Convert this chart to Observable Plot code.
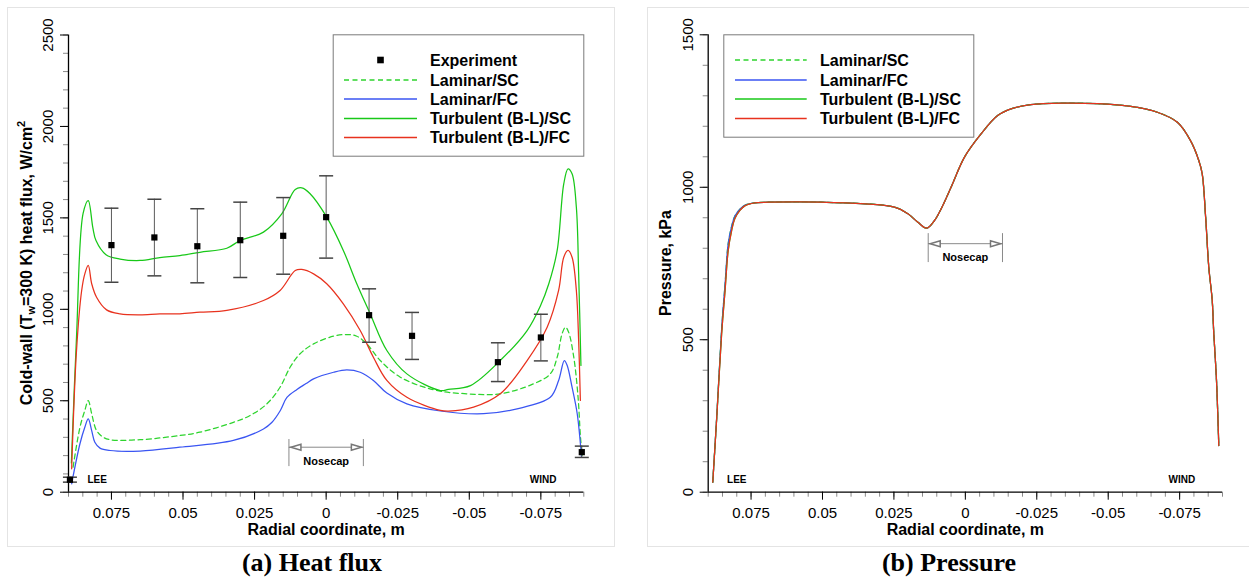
<!DOCTYPE html>
<html><head><meta charset="utf-8">
<script src="https://cdn.jsdelivr.net/npm/d3@7"></script>
<script src="https://cdn.jsdelivr.net/npm/@observablehq/plot@0.6"></script>
<style>
body{margin:0;background:#fff;}
#root{position:relative;width:1249px;height:578px;overflow:hidden;font-family:'Liberation Sans',Arial,Helvetica,sans-serif;}
.box{position:absolute;border:1px solid #e4e4e4;box-sizing:border-box;}
.title{position:absolute;font-family:'Liberation Serif','Times New Roman',serif;font-weight:bold;font-size:26px;text-align:center;white-space:nowrap;line-height:28px;}
.panel{position:absolute;top:0;}
</style></head><body><div id="root"></div>
<script>
// ---------- data ----------
const xTickValues = [0.075, 0.05, 0.025, 0, -0.025, -0.05, -0.075];
const xTickLabels = ["0.075", "0.05", "0.025", "0", "-0.025", "-0.05", "-0.075"];
const heatTickValues = [0, 500, 1000, 1500, 2000, 2500];
const presTickValues = [0, 500, 1000, 1500];

const seriesNames = ["Laminar/SC", "Laminar/FC", "Turbulent (B-L)/SC", "Turbulent (B-L)/FC"];
const seriesColors = ["#2ed42e", "#3a55f2", "#18c818", "#e8321e"];

// Experiment (heat flux)
const expX  = [0.0895, 0.075, 0.060, 0.045, 0.030, 0.015, 0.000, -0.015, -0.030, -0.060, -0.075, -0.0893];
const expY  = [68, 1351, 1393, 1345, 1378, 1402, 1504, 968, 855, 711, 846, 219];
const expLo = [55, 1148, 1183, 1145, 1174, 1192, 1280, 820, 726, 605, 718, 190];
const expHi = [82, 1553, 1602, 1550, 1586, 1611, 1730, 1112, 983, 817, 973, 252];

// Laminar/SC heat flux
const lamSCx = [0.0884,0.0860,0.0843,0.0831,0.0819,0.0802,0.0779,0.0755,0.0650,0.0511,0.0441,0.0324,0.0265,0.0207,0.0161,0.0126,0.0091,0.0044,-0.0026,-0.0072,-0.0107,-0.0142,-0.0189,-0.0259,-0.0375,-0.0492,-0.0608,-0.0725,-0.0783,-0.0807,-0.0824,-0.0836,-0.0847,-0.0865,-0.0880,-0.0888,-0.0894];
const lamSCy = [137,355,447,501,429,337,301,287,287,310,328,382,420,483,574,683,757,811,853,862,853,811,720,629,560,538,538,593,647,738,866,902,875,738,519,310,201];
// Laminar/FC heat flux
const lamFCx = [0.0889,0.0860,0.0843,0.0831,0.0819,0.0808,0.0790,0.0755,0.0650,0.0511,0.0324,0.0219,0.0190,0.0160,0.0137,0.0102,0.0070,0.0044,-0.0026,-0.0072,-0.0119,-0.0165,-0.0212,-0.0282,-0.0399,-0.0550,-0.0667,-0.0783,-0.0812,-0.0832,-0.0842,-0.0859,-0.0877,-0.0892];
const lamFCy = [46,265,355,401,337,273,241,228,225,246,283,346,381,447,518,562,594,620,656,669,656,611,542,483,444,429,456,519,611,720,693,574,429,191];
// Turbulent (B-L)/SC heat flux
const turbSCx = [0.0890,0.0872,0.0849,0.0831,0.0815,0.0804,0.0769,0.0720,0.0650,0.0581,0.0511,0.0441,0.0347,0.0301,0.0219,0.0155,0.0108,0.0085,0.0056,-0.0002,-0.0060,-0.0107,-0.0154,-0.0212,-0.0282,-0.0399,-0.0427,-0.0504,-0.0608,-0.0702,-0.0749,-0.0778,-0.0807,-0.0830,-0.0845,-0.0859,-0.0874,-0.0882,-0.0890];
const turbSCy = [160,850,1524,1595,1447,1376,1299,1275,1267,1283,1294,1312,1334,1376,1422,1522,1655,1664,1632,1504,1322,1140,975,775,647,556,562,583,720,884,1021,1141,1322,1686,1768,1741,1558,1194,693];
// Turbulent (B-L)/FC heat flux
const turbFCx = [0.0889,0.0872,0.0854,0.0843,0.0831,0.0819,0.0802,0.0767,0.0720,0.0650,0.0581,0.0511,0.0441,0.0347,0.0219,0.0161,0.0108,0.0085,0.0044,-0.0002,-0.0060,-0.0119,-0.0165,-0.0212,-0.0282,-0.0399,-0.0428,-0.0515,-0.0608,-0.0702,-0.0772,-0.0812,-0.0830,-0.0845,-0.0859,-0.0874,-0.0882,-0.0888];
const turbFCy = [128,775,1103,1194,1240,1140,1066,997,975,970,975,975,984,994,1048,1103,1212,1218,1194,1140,1030,884,738,611,519,447,443,465,538,720,902,1103,1285,1322,1285,1103,830,502];

// Pressure (kPa)
const presX    = [0.0884,0.0870,0.0853,0.0841,0.0830,0.0818,0.0807,0.0789,0.0772,0.0737,0.0690,0.0504,0.0248,0.0201,0.0166,0.0135,0.0108,0.0085,0.0050,0.0003,-0.0055,-0.0113,-0.0160,-0.0229,-0.0346,-0.0462,-0.0579,-0.0672,-0.0742,-0.0788,-0.0817,-0.0829,-0.0841,-0.0852,-0.0864,-0.0869,-0.0879,-0.0887];
const presTurb = [33,246,519,661,793,858,897,924,939,949,951,951,935,913,885,866,891,929,1000,1099,1175,1235,1257,1271,1276,1274,1265,1246,1213,1153,1088,1044,902,738,629,530,366,153];
const presLam  = [33,250,535,682,815,872,905,928,941,949,951,951,935,913,885,866,891,929,1000,1099,1175,1235,1257,1271,1276,1274,1265,1246,1213,1153,1088,1044,902,738,629,530,366,153];

// annotations
const nosecapBounds = [0.013, -0.013];
const heatNose = {y1: 140, y2: 288, arrow: 246, text: 168};
const presNose = {y1: 753, y2: 848, arrow: 815, text: 771};
const sideLabels = ["LEE", "WIND"];
const sideLabelX = [0.0834, -0.0711];

// ---------- helpers ----------
const zip = (xs, ys) => xs.map((x, i) => ({x, y: ys[i]}));
const range = (a, b, s) => { const r = []; for (let v = a; v <= b + 1e-9; v += s) r.push(+v.toFixed(4)); return r; };
const capSym = {draw(ctx) { ctx.moveTo(-7, 0); ctx.lineTo(7, 0); }};
const triLeft = {draw(ctx) { ctx.moveTo(0, 0); ctx.lineTo(10, -3); ctx.lineTo(10, 3); ctx.closePath(); }};
const triRight = {draw(ctx) { ctx.moveTo(0, 0); ctx.lineTo(-10, -3); ctx.lineTo(-10, 3); ctx.closePath(); }};
const xFmt = d => { const i = xTickValues.indexOf(d); return i < 0 ? "" : xTickLabels[i]; };

function basePanel({width, height, ml, mr, mt, mb, yMax, yTicks, series, extra, nose, sideY}) {
  const yMinor = range(0, yMax, 100);
  const xMinor = range(-0.09, 0.09, 0.005);
  const marks = [
    Plot.axisX({ticks: xMinor, tickSize: 5, tickFormat: () => "", stroke: "#8a8a8a", label: null}),
    Plot.axisX({ticks: xTickValues, tickSize: 8, tickPadding: 7, tickFormat: xFmt, fontSize: 15, stroke: "black", label: null}),
    Plot.axisY({ticks: yMinor, tickSize: 5, tickFormat: () => "", stroke: "#8a8a8a", label: null}),
    Plot.axisY({ticks: yTicks, tickSize: 8, tickFormat: () => "", stroke: "black", label: null}),
    Plot.text(yTicks, {y: d => d, text: d => String(d), frameAnchor: "left", dx: -20, rotate: -90, fontSize: 15, textAnchor: "middle", lineAnchor: "middle"}),
    Plot.ruleY([0], {stroke: "black", strokeWidth: 1.3}),
    Plot.ruleX([0.09], {stroke: "black", strokeWidth: 1.3}),
    Plot.text(["Radial coordinate, m"], {frameAnchor: "bottom", dy: 38, fontWeight: "bold", fontSize: 16, lineAnchor: "middle"}),
    // nosecap annotation
    Plot.ruleX(nosecapBounds, {x: d => d, y1: () => nose.y1, y2: () => nose.y2, stroke: "#8a8a8a"}),
    Plot.link([0], {x1: () => nosecapBounds[0], x2: () => nosecapBounds[1], y1: () => nose.arrow, y2: () => nose.arrow, stroke: "#8a8a8a"}),
    Plot.dot([nosecapBounds[0]], {x: d => d, y: () => nose.arrow, symbol: triLeft, dx: 2, fill: "white", stroke: "#777"}),
    Plot.dot([nosecapBounds[1]], {x: d => d, y: () => nose.arrow, symbol: triRight, dx: -2, fill: "white", stroke: "#777"}),
    Plot.text(["Nosecap"], {x: () => 0, y: () => nose.text, fontWeight: "bold", fontSize: 11, lineAnchor: "middle"}),
    Plot.text(sideLabels, {x: (d, i) => sideLabelX[i], y: () => sideY, text: d => d, textAnchor: "start", fontWeight: "bold", fontSize: 10, lineAnchor: "middle"}),
    ...series.map(s => Plot.line(s.data, {x: "x", y: "y", stroke: s.color, strokeWidth: 1.25, strokeDasharray: s.dash ? "5,3.5" : null, curve: "catmull-rom"})),
    ...(extra || [])
  ];
  return Plot.plot({
    width, height, marginLeft: ml, marginRight: mr, marginTop: mt, marginBottom: mb,
    x: {domain: [0.09, -0.09]},
    y: {domain: [0, yMax]},
    style: {fontFamily: "'Liberation Sans', Arial, Helvetica, sans-serif", fontSize: "15px", background: "transparent", overflow: "visible"},
    marks
  });
}

const root = document.getElementById("root");
function addDiv(cls, css, text) { const d = document.createElement("div"); d.className = cls; Object.assign(d.style, css); if (text) d.textContent = text; root.appendChild(d); return d; }
addDiv("box", {left: "7px", top: "7px", width: "608px", height: "540px"});
addDiv("box", {left: "647px", top: "7px", width: "620px", height: "540px"});

// ---------- panel (a) ----------
const exp = expX.map((x, i) => ({x, y: expY[i], lo: expLo[i], hi: expHi[i]}));
const heatSeries = [
  {data: zip(lamSCx, lamSCy), color: seriesColors[0], dash: true},
  {data: zip(lamFCx, lamFCy), color: seriesColors[1]},
  {data: zip(turbSCx, turbSCy), color: seriesColors[2]},
  {data: zip(turbFCx, turbFCy), color: seriesColors[3]}
];
const pa = basePanel({width: 620, height: 546, ml: 68, mr: 36.7, mt: 34.5, mb: 54.3, yMax: 2500, yTicks: heatTickValues,
  series: heatSeries, nose: heatNose, sideY: 69,
  extra: [
    Plot.ruleX(exp, {x: "x", y1: "lo", y2: "hi", stroke: "#5a5a5a"}),
    Plot.dot(exp, {x: "x", y: "lo", symbol: capSym, stroke: "#444", fill: "none"}),
    Plot.dot(exp, {x: "x", y: "hi", symbol: capSym, stroke: "#444", fill: "none"}),
    Plot.dot(exp, {x: "x", y: "y", symbol: "square", r: 3.5, fill: "black"})
  ]});
const svgA = d3.select(pa);
const yl = svgA.append("text").attr("transform", "translate(28,263) rotate(-90)").attr("text-anchor", "middle")
  .attr("dominant-baseline", "middle").attr("font-weight", "bold").attr("font-size", 16).attr("fill", "black");
yl.append("tspan").text("Cold-wall (T");
yl.append("tspan").attr("font-size", 11).attr("dy", 4).text("w");
yl.append("tspan").attr("font-size", 16).attr("dy", -4).text("=300 K) heat flux, W/cm");
yl.append("tspan").attr("font-size", 11).attr("dy", -6).text("2");
const wrapA = addDiv("panel", {left: "0px"}); wrapA.appendChild(pa);

// ---------- panel (b) ----------
const presSeries = [
  {data: zip(presX, presLam), color: seriesColors[0], dash: true},
  {data: zip(presX, presLam), color: seriesColors[1]},
  {data: zip(presX, presTurb), color: seriesColors[2]},
  {data: zip(presX, presTurb), color: seriesColors[3]}
];
const pb = basePanel({width: 609, height: 546, ml: 67.7, mr: 27, mt: 34.3, mb: 54.3, yMax: 1500, yTicks: presTickValues,
  series: presSeries, nose: presNose, sideY: 42});
d3.select(pb).append("text").attr("transform", "translate(26.7,263) rotate(-90)").attr("text-anchor", "middle")
  .attr("dominant-baseline", "middle").attr("font-weight", "bold").attr("font-size", 16).attr("fill", "black").text("Pressure, kPa");
const wrapB = addDiv("panel", {left: "640px"}); wrapB.appendChild(pb);

// ---------- legends ----------
const leg = d3.select(root).append("svg").attr("width", 1249).attr("height", 578)
  .style("position", "absolute").style("left", "0px").style("top", "0px").style("pointer-events", "none")
  .style("font-family", "'Liberation Sans', Arial, Helvetica, sans-serif");
function legend(x0, y0, x1, y1, lineX0, lineX1, textX, rows) {
  leg.append("rect").attr("x", x0 + 0.5).attr("y", y0 + 0.5).attr("width", x1 - x0).attr("height", y1 - y0)
    .attr("fill", "white").attr("stroke", "#7a7a7a");
  rows.forEach(r => {
    if (r.marker) leg.append("rect").attr("x", (lineX0 + lineX1) / 2 - 3.3).attr("y", r.y - 3.3).attr("width", 6.6).attr("height", 6.6).attr("fill", "black");
    else leg.append("line").attr("x1", lineX0).attr("x2", lineX1).attr("y1", r.y).attr("y2", r.y)
      .attr("stroke", r.color).attr("stroke-width", 1.5).attr("stroke-dasharray", r.dash ? "5,3.5" : null);
    leg.append("text").attr("x", textX).attr("y", r.y).attr("dy", "0.36em").attr("font-weight", "bold").attr("font-size", 16).text(r.name);
  });
}
legend(332.7, 34.3, 583.3, 155.7, 344, 417, 430, [
  {name: "Experiment", marker: true, y: 60},
  {name: seriesNames[0], color: seriesColors[0], dash: true, y: 80},
  {name: seriesNames[1], color: seriesColors[1], y: 99},
  {name: seriesNames[2], color: seriesColors[2], y: 118.5},
  {name: seriesNames[3], color: seriesColors[3], y: 137.5}
]);
legend(723.3, 34.3, 973.3, 136.7, 735, 806.7, 820, [
  {name: seriesNames[0], color: seriesColors[0], dash: true, y: 60},
  {name: seriesNames[1], color: seriesColors[1], y: 80},
  {name: seriesNames[2], color: seriesColors[2], y: 99},
  {name: seriesNames[3], color: seriesColors[3], y: 118.5}
]);

// ---------- titles ----------
addDiv("title", {left: "212px", width: "200px", top: "549px"}, "(a) Heat flux");
addDiv("title", {left: "849px", width: "200px", top: "549px"}, "(b) Pressure");
</script></body></html>
